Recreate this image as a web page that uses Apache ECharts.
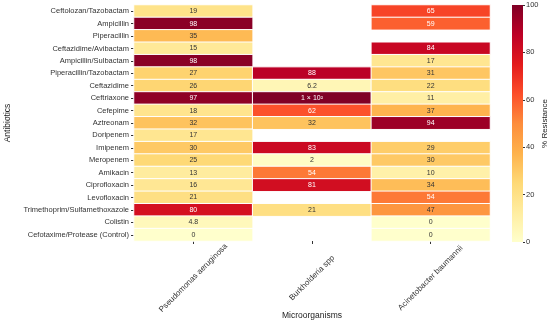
<!DOCTYPE html>
<html><head><meta charset="utf-8">
<script src="https://cdn.jsdelivr.net/npm/echarts@6/dist/echarts.min.js"></script>
<style>html,body{margin:0;padding:0;background:#fff}#c{width:550px;height:323px}</style>
</head><body><div id="c"></div>
<script>
const antibiotics = ["Ceftolozan/Tazobactam","Ampicillin","Piperacillin","Ceftazidime/Avibactam","Ampicillin/Sulbactam","Piperacillin/Tazobactam","Ceftazidime","Ceftriaxone","Cefepime","Aztreonam","Doripenem","Imipenem","Meropenem","Amikacin","Ciprofloxacin","Levofloxacin","Trimethoprim/Sulfamethoxazole","Colistin","Cefotaxime/Protease (Control)"];
const organisms = ["Pseudomonas aeruginosa","Burkholderia spp","Acinetobacter baumannii"];
const pseudomonas = [19,98,35,15,98,27,26,97,18,32,17,30,25,13,16,21,80,4.8,0];
const burkholderia = [null,null,null,null,null,88,6.2,100,62,32,null,83,2,54,81,null,21,null,null];
const acinetobacter = [65,59,null,84,17,31,22,11,37,94,null,29,30,10,34,54,47,0,0];
const colorTicks = [0,20,40,60,80,100];
const palette = ['#ffffcc','#ffeda0','#fed976','#feb24c','#fd8d3c','#fc4e2a','#e31a1c','#bd0026','#800026'];

const cols = [pseudomonas, burkholderia, acinetobacter];
const data = [];
cols.forEach((arr, xi) => arr.forEach((v, yi) => {
  if (v !== null) data.push({value: [xi, yi, v], label: {color: v >= 50 ? '#fff' : '#333'}});
}));

const FONT = "Liberation Sans";
const gradStops = palette.map((c, i) => ({offset: i / (palette.length - 1), color: c}));
const chart = echarts.init(document.getElementById('c'));
chart.setOption({
  animation: false,
  textStyle: {fontFamily: FONT},
  grid: [
    {left: 134, right: 60, top: 5, bottom: 82, outerBoundsMode: 'none', containLabel: false},
    {left: 512, width: 11, top: 5, bottom: 81, outerBoundsMode: 'none', containLabel: false}
  ],
  xAxis: [
    {type: 'category', data: organisms, gridIndex: 0,
     axisLine: {show: false}, splitLine: {show: false},
     axisTick: {show: true, alignWithLabel: true, length: 3, lineStyle: {color: '#333'}},
     axisLabel: {rotate: 45, fontSize: 8, color: '#333', margin: 37, align: 'center', verticalAlign: 'middle', fontFamily: FONT},
     name: 'Microorganisms', nameLocation: 'middle', nameGap: 70, nameMoveOverlap: false,
     nameTextStyle: {fontSize: 8.5, color: '#222', fontFamily: FONT}},
    {type: 'category', data: ['bar'], gridIndex: 1, show: false}
  ],
  yAxis: [
    {type: 'category', data: antibiotics, inverse: true, gridIndex: 0,
     axisLine: {show: false}, splitLine: {show: false},
     axisTick: {show: true, alignWithLabel: true, length: 3, lineStyle: {color: '#333'}},
     axisLabel: {fontSize: 7.5, color: '#333', margin: 5, fontFamily: FONT},
     name: 'Antibiotics', nameLocation: 'middle', nameGap: 122, nameRotate: 90, nameMoveOverlap: false,
     nameTextStyle: {fontSize: 8.5, color: '#222', fontFamily: FONT}},
    {type: 'value', gridIndex: 1, position: 'right', min: colorTicks[0], max: colorTicks[colorTicks.length-1], interval: 20,
     axisLine: {show: false}, splitLine: {show: false},
     axisTick: {show: true, length: 2, lineStyle: {color: '#333'}},
     axisLabel: {fontSize: 7.5, color: '#333', margin: 3, fontFamily: FONT},
     name: '% Resistance', nameLocation: 'middle', nameGap: 18, nameRotate: 90, nameMoveOverlap: false,
     nameTextStyle: {fontSize: 8, color: '#222', fontFamily: FONT}}
  ],
  visualMap: {
    type: 'continuous', min: 0, max: 100, show: false, seriesIndex: 0,
    inRange: {color: palette}
  },
  series: [{
    type: 'heatmap', xAxisIndex: 0, yAxisIndex: 0, data: data,
    itemStyle: {borderColor: '#fff', borderWidth: 1},
    label: {show: true, fontSize: 7, fontFamily: FONT,
      formatter: p => p.value[2] === 100 ? '1 × 10²' : String(p.value[2])}
  }, {
    type: 'bar', xAxisIndex: 1, yAxisIndex: 1, barWidth: '100%',
    data: [colorTicks[colorTicks.length-1]],
    itemStyle: {color: {type: 'linear', x: 0, y: 1, x2: 0, y2: 0, colorStops: gradStops}},
    silent: true
  }]
});
</script></body></html>
